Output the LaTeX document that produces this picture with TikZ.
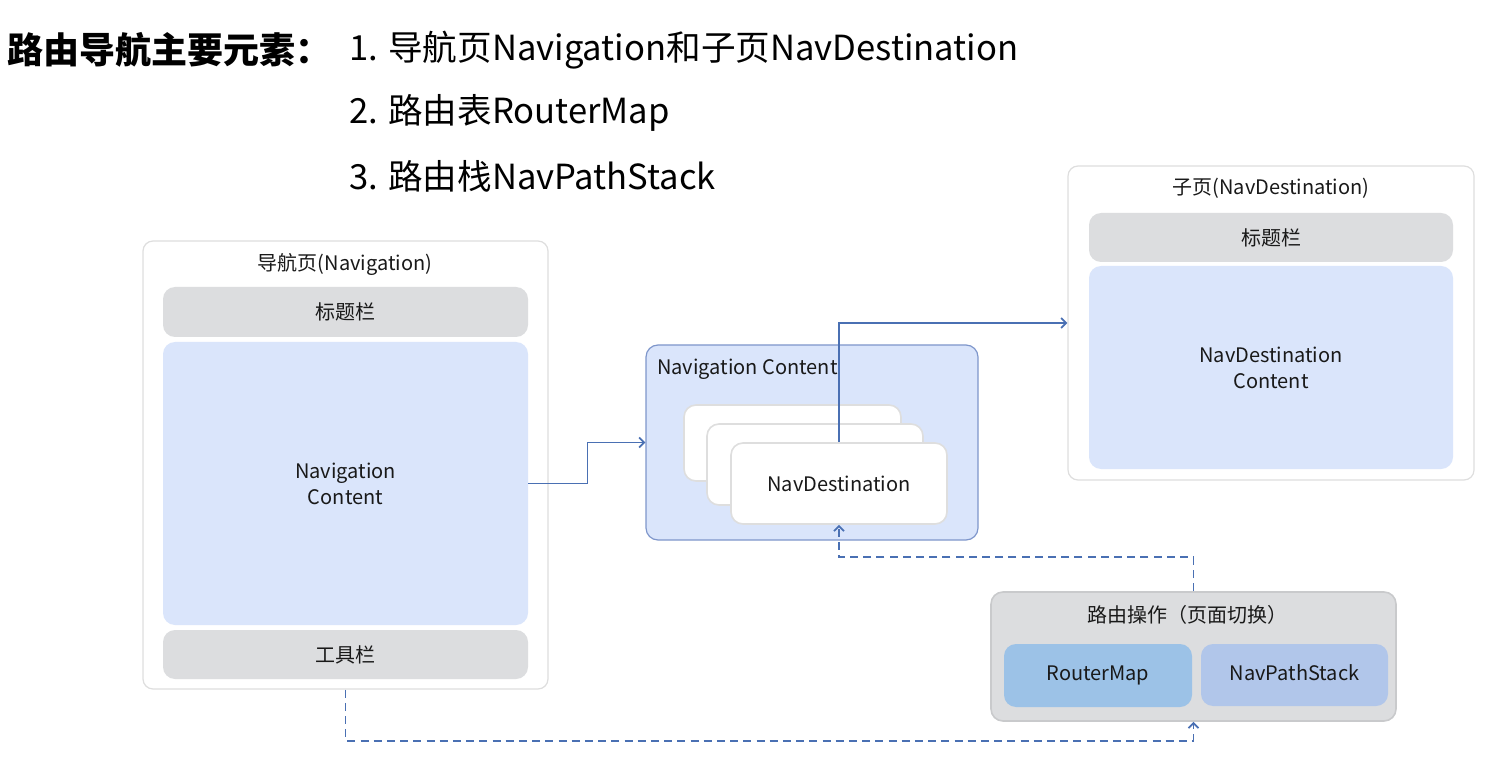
\documentclass[tikz,border=0pt]{standalone}
\usepackage{fontspec}
\setmainfont{Noto Sans CJK SC}
\usetikzlibrary{arrows.meta,fit}

% colores
\definecolor{gris}{HTML}{DCDDDF}
\definecolor{grisborde}{HTML}{C9CACC}
\definecolor{azulclaro}{HTML}{DAE5FB}
\definecolor{borde}{HTML}{DEDEDE}
\definecolor{bordeazul}{HTML}{7E96CB}
\definecolor{flecha}{HTML}{4A70B3}
\definecolor{rutamapa}{HTML}{9CC2E7}
\definecolor{pila}{HTML}{B1C6EA}

\begin{document}
\begin{tikzpicture}[x=0.5pt,y=-0.5pt]

% estilos de cajas y texto
\tikzstyle{texto}    = [font=\fontsize{10}{13}\selectfont,text=black!90]
\tikzstyle{pagina}   = [draw=borde,fill=white,line width=0.6pt,rounded corners=5pt,inner sep=0]
\tikzstyle{barra}    = [fill=gris,rounded corners=6pt,inner sep=0]
\tikzstyle{contenido}= [fill=azulclaro,rounded corners=6pt,inner sep=0]
\tikzstyle{tarjeta}  = [draw=borde,fill=white,line width=0.8pt,rounded corners=6pt,inner sep=0]
\tikzstyle{flechasol}= [draw=flecha,line width=0.9pt,-{Straight Barb[length=2.5pt,width=5pt]}]
\tikzstyle{flechapun}= [flechasol,dash pattern=on 4pt off 2.6pt]
\tikzstyle{lista}    = [anchor=west,font=\fontsize{17.3}{20}\selectfont]

% caja con rotulo
% #1: nombre, #2: estilo, #3: esquina sup. izq., #4: esquina inf. der., #5: rotulo
\newcommand{\caja}[5]{
	\node[#2,fit={#3 #4}] (#1) {};
	\node[texto,align=center] (#1-t) at (#1.center) {#5};
}

% marco de la imagen
\useasboundingbox (0,0) rectangle (1503,764);

% titulo y lista
\node[anchor=west,font=\bfseries\fontsize{18}{20}\selectfont] (titulo) at (0,50) {路由导航主要元素：};
\node[lista] (item1) at (342,50) {1. 导航页Navigation和子页NavDestination};
\node[lista] (item2) at (342,113) {2. 路由表RouterMap};
\node[lista] (item3) at (342,176) {3. 路由栈NavPathStack};

% pagina de navegacion
\node[pagina,fit={(143,241) (548,689)}] (nav) {};
\node[texto] (navtit) at (345,264) {导航页(Navigation)};
\caja{navbar}{barra}{(163,287)}{(528,337)}{标题栏}
\caja{navcont}{contenido}{(163,342)}{(528,625)}{Navigation\\Content}
\caja{navtool}{barra}{(163,630)}{(528,679)}{工具栏}

% contenedor de navegacion
\node[draw=bordeazul,fill=azulclaro,line width=0.6pt,rounded corners=6pt,inner sep=0,fit={(646,345) (978,540)}] (navhost) {};
\node[texto,anchor=west] (hosttit) at (650,369) {Navigation Content};
\node[tarjeta,fit={(684,405) (901,481)}] (tarj1) {};
\node[tarjeta,fit={(707,424) (923,505)}] (tarj2) {};
\caja{tarj3}{tarjeta}{(731,443)}{(947,524)}{NavDestination}

% subpagina
\node[pagina,fit={(1068,166) (1474,480)}] (sub) {};
\node[texto] (subtit) at (1271,188) {子页(NavDestination)};
\caja{subbar}{barra}{(1089,213)}{(1453,262)}{标题栏}
\caja{subcont}{contenido}{(1089,266)}{(1453,469)}{NavDestination\\Content}

% operaciones de ruta
\node[draw=grisborde,fill=gris,line width=0.8pt,rounded corners=6pt,inner sep=0,fit={(991,592) (1396,721)}] (ops) {};
\node[texto] (opstit) at (1187,615) {路由操作（页面切换）};
\caja{mapa}{fill=rutamapa,rounded corners=6pt,inner sep=0}{(1004,644)}{(1192,707)}{\strut RouterMap}
\caja{pila}{fill=pila,rounded corners=6pt,inner sep=0}{(1201,644)}{(1388,706)}{\strut NavPathStack}

% conectores
\draw[flechasol] (navcont.east) -- ++(59,0) |- (navhost.west);
\draw[flechasol] (tarj3.north) |- (sub.west);
\draw[flechapun] (nav.south) -- ++(0,51) -| (ops.south);
\draw[flechapun] (ops.north) -- ++(0,-34) -| (tarj3.south);

\end{tikzpicture}
\end{document}
